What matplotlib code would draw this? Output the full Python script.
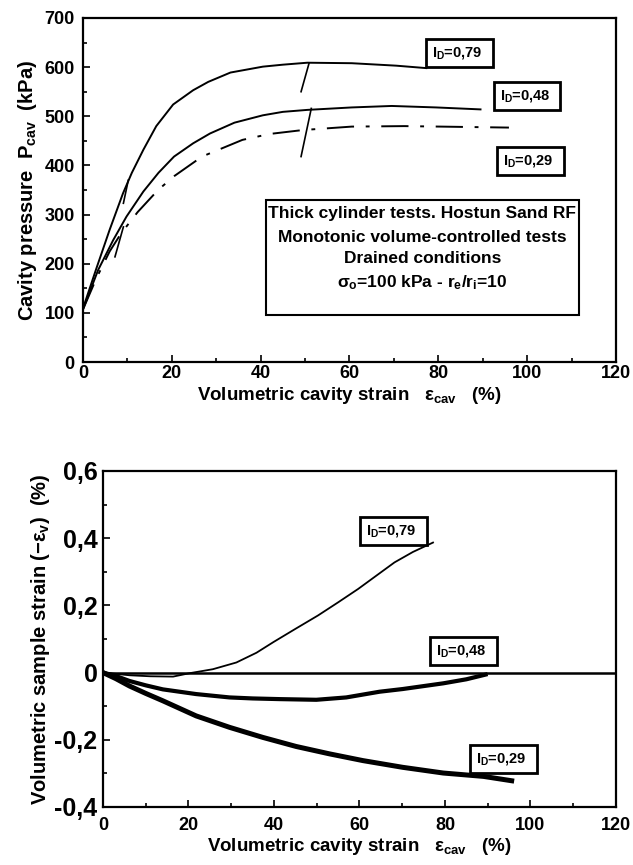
import numpy as np
import matplotlib
matplotlib.use("Agg")
import matplotlib.pyplot as plt
from matplotlib.ticker import MultipleLocator, FuncFormatter

plt.rcParams['font.family'] = ['Liberation Sans', 'DejaVu Sans']
plt.rcParams['font.weight'] = 'bold'
plt.rcParams['mathtext.fontset'] = 'custom'
plt.rcParams['mathtext.rm'] = 'Liberation Sans:bold'
plt.rcParams['mathtext.it'] = 'Liberation Sans:bold'
plt.rcParams['mathtext.bf'] = 'Liberation Sans:bold'

# --- top plot: cavity pressure vs cavity strain ---
x79 = [0, 3, 6, 9, 11, 13.6, 16.5, 20.3, 24.8, 28.2, 33.2, 40.5, 45, 50.5, 60.5, 70.5, 77.3]
p79 = [109, 190, 269, 343, 385, 432, 480, 524, 553, 570, 589, 601, 605, 609, 608, 603, 598]
x48 = [0, 3.4, 6.8, 9.8, 13.6, 17, 20.5, 24.8, 28.6, 34.1, 40.5, 45, 50.5, 60.5, 69.5, 79.5, 89.5]
p48 = [107, 187, 248, 296, 347, 385, 418, 445, 465, 487, 502, 509, 513, 518, 521, 518, 514]
x29 = [0, 3, 6, 8.6, 12.3, 16.9, 20.5, 26.8, 35.9, 42, 49.5, 60.5, 72.3, 80.5, 95.9]
p29 = [107, 170, 225, 262, 305, 350, 378, 418, 452, 464, 472, 479, 480, 479, 477]

# short unload/reload segments
seg_x = [[49.1, 50.9], [49.1, 51.4], [9.1, 10.2], [7.2, 9.1]]
seg_p = [[550, 608], [418, 516], [323, 370], [214, 275]]

# --- bottom plot: volumetric sample strain ---
e79x = [0, 6.2, 11, 16.4, 20.2, 25.7, 31.2, 35.9, 39.9, 45, 50.3, 55, 59.7, 64, 68.2, 72.5, 77.2]
e79y = [0, -0.008, -0.011, -0.012, -0.002, 0.010, 0.030, 0.059, 0.091, 0.130, 0.170, 0.209, 0.249, 0.289, 0.328, 0.359, 0.387]
e48x = [0, 3, 6.2, 10, 14, 21.8, 29.6, 35, 41.3, 49.9, 56.9, 64.7, 70.1, 79.6, 85, 89.5]
e48y = [0, -0.010, -0.025, -0.038, -0.050, -0.064, -0.074, -0.077, -0.079, -0.081, -0.074, -0.057, -0.049, -0.032, -0.020, -0.006]
e29x = [0, 3, 6.2, 10, 14, 21.8, 29.6, 37.4, 45.2, 53, 60.8, 70.1, 79.6, 89, 95.6]
e29y = [0, -0.018, -0.040, -0.062, -0.084, -0.129, -0.163, -0.193, -0.220, -0.242, -0.262, -0.282, -0.299, -0.309, -0.322]

fig = plt.figure(figsize=(6.33, 8.65), dpi=100)
ax1 = fig.add_axes([0.1311, 0.5815, 0.842, 0.3977])
ax2 = fig.add_axes([0.1627, 0.0671, 0.8104, 0.3884])

def style(ax):
    for s in ax.spines.values():
        s.set_linewidth(1.6)
    ax.tick_params(which='both', direction='in', top=False, right=False, width=1.2)
    ax.tick_params(which='major', length=5)
    ax.tick_params(which='minor', length=3)
    ax.xaxis.set_major_locator(MultipleLocator(20))
    ax.xaxis.set_minor_locator(MultipleLocator(10))

lab_box = dict(boxstyle='square,pad=0.4', facecolor='white', edgecolor='black', lw=2)

style(ax1)
ax1.plot(x79, p79, color='black', lw=1.4)
ax1.plot(x48, p48, color='black', lw=1.4)
ax1.plot(x29, p29, color='black', lw=1.4, dashes=[14, 6, 2, 6])
for sx, sp in zip(seg_x, seg_p):
    ax1.plot(sx, sp, color='black', lw=1.2)
ax1.set_xlim(0, 120)
ax1.set_ylim(0, 700)
ax1.yaxis.set_major_locator(MultipleLocator(100))
ax1.yaxis.set_minor_locator(MultipleLocator(50))
ax1.tick_params(axis='x', labelsize=13, pad=2)
ax1.tick_params(axis='y', labelsize=13, pad=6)
ax1.set_xlabel(r'Volumetric cavity strain   $\varepsilon_{cav}$   (%)', fontsize=13.5, fontweight='bold', labelpad=2)
ax1.set_ylabel(r'Cavity pressure  $P_{cav}$  (kPa)', fontsize=14.5, fontweight='bold', labelpad=4)

ax1.text(84.8, 629, r'$I_D$=0,79  ', fontsize=10.5, ha='center', va='center', bbox=lab_box)
ax1.text(100, 541, r'$I_D$=0,48  ', fontsize=10.5, ha='center', va='center', bbox=lab_box)
ax1.text(100.7, 409, r'$I_D$=0,29  ', fontsize=10.5, ha='center', va='center', bbox=lab_box)

ax1.add_patch(plt.Rectangle((41.2, 96), 70.4, 234, facecolor='white', edgecolor='black', lw=1.5, zorder=3))
info = ['Thick cylinder tests. Hostun Sand RF', 'Monotonic volume-controlled tests',
        'Drained conditions', r'$\sigma_o$=100 kPa - $r_e/r_i$=10']
for yy, t in zip([302, 254, 210, 162], info):
    ax1.text(76.4, yy, t, fontsize=12.5, ha='center', va='center', zorder=4)

style(ax2)
ax2.axhline(0, color='black', lw=1.8)
ax2.plot(e79x, e79y, color='black', lw=1.3)
ax2.plot(e48x, e48y, color='black', lw=3)
ax2.plot(e29x, e29y, color='black', lw=3.6)
ax2.set_xlim(0, 120)
ax2.set_ylim(-0.4, 0.6)
ax2.yaxis.set_major_locator(MultipleLocator(0.2))
ax2.yaxis.set_minor_locator(MultipleLocator(0.1))
ax2.yaxis.set_major_formatter(FuncFormatter(lambda v, p: ('%g' % round(v, 1)).replace('.', ',')))
ax2.tick_params(axis='x', labelsize=13, pad=7)
ax2.tick_params(axis='y', labelsize=18, pad=4)
ax2.set_xlabel(r'Volumetric cavity strain   $\varepsilon_{cav}$   (%)', fontsize=13.5, fontweight='bold', labelpad=2)
ax2.set_ylabel(r'Volumetric sample strain ($-\varepsilon_v$)  (%)', fontsize=14.5, fontweight='bold', labelpad=2)

ax2.text(68, 0.421, r'$I_D$=0,79  ', fontsize=10.5, ha='center', va='center', bbox=lab_box)
ax2.text(84.3, 0.064, r'$I_D$=0,48  ', fontsize=10.5, ha='center', va='center', bbox=lab_box)
ax2.text(93.7, -0.257, r'$I_D$=0,29  ', fontsize=10.5, ha='center', va='center', bbox=lab_box)

fig.savefig('out.png', dpi=100)
